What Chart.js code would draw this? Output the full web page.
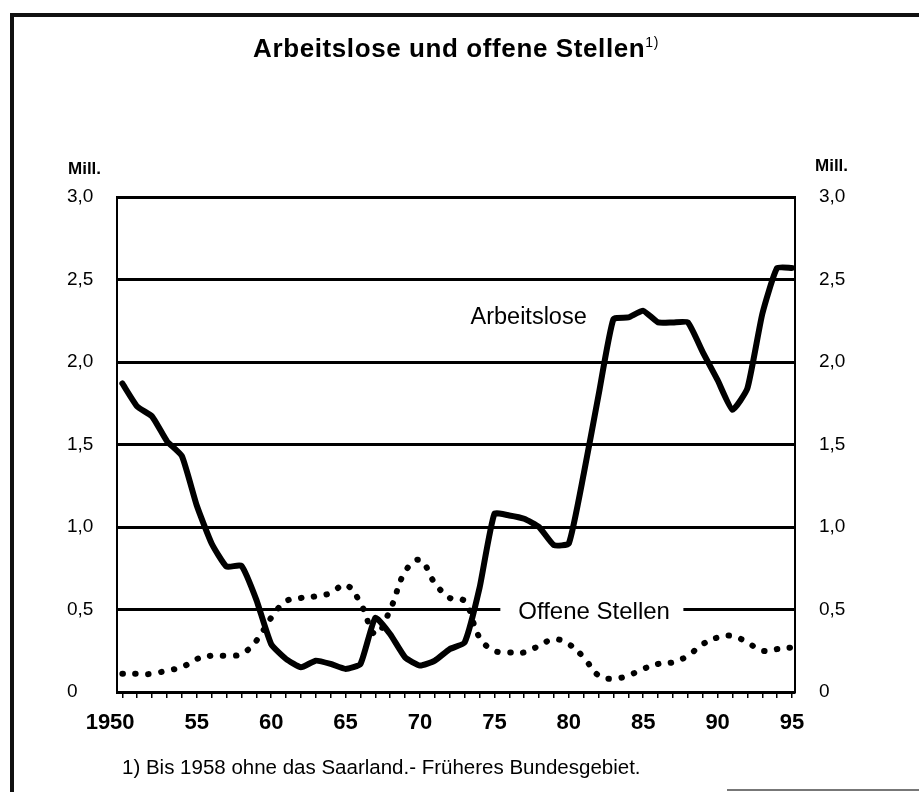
<!DOCTYPE html>
<html>
<head>
<meta charset="utf-8">
<script src="https://cdn.jsdelivr.net/npm/chart.js@4.4.0/dist/chart.umd.min.js"></script>
<style>
  body { margin: 0; background: #fff; font-family: "Liberation Sans", Arial, sans-serif; }
  #wrap { position: relative; width: 919px; height: 792px; overflow: hidden; }
  #frame { position: absolute; left: 10px; top: 13px; width: 920px; height: 800px;
           border-left: 4px solid #111; border-top: 4px solid #111; }
  #bottomline { position: absolute; left: 727px; top: 789px; width: 192px; height: 2px; background: #777; }
  .txt { position: absolute; color: #000; white-space: nowrap; }
  #title { left: 0; width: 912px; top: 33px; text-align: center; font-weight: bold; font-size: 26px; letter-spacing: 0.6px; }
  #title sup { font-size: 14px; font-weight: normal; }
  #millL { left: 68px; top: 159px; font-size: 17px; font-weight: bold; }
  #millR { left: 815px; top: 156px; font-size: 17px; font-weight: bold; }
  #foot { left: 122px; top: 755px; font-size: 20.5px; }
  canvas { position: absolute; left: 0; top: 0; }
</style>
</head>
<body>
<div id="wrap">
  <div id="frame"></div>
  <div id="bottomline"></div>
  <canvas id="lineChart" width="919" height="792"></canvas>
  <div class="txt" id="title">Arbeitslose und offene Stellen<sup>1)</sup></div>
  <div class="txt" id="millL">Mill.</div>
  <div class="txt" id="millR">Mill.</div>
  <div class="txt" id="foot">1) Bis 1958 ohne das Saarland.- Früheres Bundesgebiet.</div>
</div>
<script>
// Jahre
var years = [1950, 1951, 1952, 1953, 1954, 1955, 1956, 1957, 1958, 1959,
             1960, 1961, 1962, 1963, 1964, 1965, 1966, 1967, 1968, 1969,
             1970, 1971, 1972, 1973, 1974, 1975, 1976, 1977, 1978, 1979,
             1980, 1981, 1982, 1983, 1984, 1985, 1986, 1987, 1988, 1989,
             1990, 1991, 1992, 1993, 1994, 1995];
// Arbeitslose, Mill.
var arbeitslose = [1.87, 1.73, 1.67, 1.52, 1.43, 1.13, 0.90, 0.76, 0.765, 0.56,
                   0.29, 0.20, 0.15, 0.19, 0.17, 0.14, 0.17, 0.45, 0.35, 0.21,
                   0.16, 0.19, 0.26, 0.30, 0.63, 1.08, 1.07, 1.05, 1.00, 0.89,
                   0.90, 1.32, 1.80, 2.26, 2.27, 2.31, 2.24, 2.24, 2.24, 2.06,
                   1.89, 1.71, 1.84, 2.29, 2.57, 2.57];
// Offene Stellen, Mill.
var offeneStellen = [0.11, 0.11, 0.11, 0.13, 0.15, 0.20, 0.22, 0.22, 0.23, 0.31,
                     0.45, 0.55, 0.57, 0.58, 0.60, 0.65, 0.54, 0.35, 0.50, 0.73,
                     0.80, 0.66, 0.57, 0.55, 0.33, 0.25, 0.24, 0.24, 0.28, 0.32,
                     0.29, 0.21, 0.10, 0.08, 0.10, 0.14, 0.17, 0.18, 0.22, 0.29,
                     0.33, 0.34, 0.30, 0.25, 0.26, 0.27];
var yTicks = [0, 0.5, 1, 1.5, 2, 2.5, 3];

function pts(vals) {
  return years.map(function (yr, i) { return { x: yr, y: vals[i] }; });
}
function yLabel(v) {
  return v === 0 ? '0' : v.toFixed(1).replace('.', ',');
}

// Beschriftungen im Diagramm
var labelsPlugin = {
  id: 'seriesLabels',
  afterDatasetsDraw: function (chart) {
    var ctx = chart.ctx;
    var xs = chart.scales.x, ys = chart.scales.y;
    ctx.save();
    ctx.textAlign = 'center';
    ctx.textBaseline = 'middle';
    ctx.fillStyle = '#000';
    ctx.font = '23.5px "Liberation Sans", Arial, sans-serif';
    ctx.fillText('Arbeitslose', xs.getPixelForValue(1977.3), ys.getPixelForValue(2.27));
    // weisser Kasten ueber der 0,5-Linie
    var x0 = xs.getPixelForValue(1975.4), x1 = xs.getPixelForValue(1987.7);
    ctx.fillStyle = '#fff';
    ctx.fillRect(x0, ys.getPixelForValue(0.5) - 4, x1 - x0, 8);
    ctx.fillStyle = '#000';
    ctx.font = '24px "Liberation Sans", Arial, sans-serif';
    ctx.fillText('Offene Stellen', xs.getPixelForValue(1981.7), ys.getPixelForValue(0.485));
    ctx.restore();
  }
};

var lineChart = document.getElementById('lineChart');
var myLineChart = new Chart(lineChart, {
  type: 'line',
  data: {
    datasets: [
      {
        label: 'Offene Stellen',
        data: pts(offeneStellen),
        borderColor: '#000',
        borderWidth: 6,
        borderDash: [0.5, 12.5],
        borderCapStyle: 'round',
        borderJoinStyle: 'round',
        tension: 0.4,
        pointRadius: 0,
        fill: false
      },
      {
        label: 'Arbeitslose',
        data: pts(arbeitslose),
        borderColor: '#000',
        borderWidth: 6,
        borderCapStyle: 'round',
        borderJoinStyle: 'round',
        tension: 0.15,
        pointRadius: 0,
        fill: false
      }
    ]
  },
  options: {
    responsive: false,
    animation: false,
    layout: { padding: { left: 67, right: 64, top: 197, bottom: 48 } },
    plugins: { legend: { display: false }, tooltip: { enabled: false }, title: { display: false } },
    scales: {
      x: {
        type: 'linear',
        min: 1949.64,
        max: 1995.2,
        afterBuildTicks: function (s) { s.ticks = years.map(function (v) { return { value: v }; }); },
        afterFit: function (s) { s.height = 52; },
        grid: { drawOnChartArea: false, color: '#000', lineWidth: 1.5, tickLength: 6 },
        border: { color: '#000', width: 3 },
        ticks: {
          autoSkip: false,
          maxRotation: 0,
          padding: 12,
          color: '#000',
          font: { family: '"Liberation Sans", Arial, sans-serif', size: 22, weight: 'bold' },
          callback: function (v) {
            if (v % 5 !== 0) return '';
            if (v === 1950) return '1950\u2007\u2007';
            return String(v).slice(2);
          }
        }
      },
      y: {
        position: 'left',
        min: 0,
        max: 3,
        afterBuildTicks: function (s) { s.ticks = yTicks.map(function (v) { return { value: v }; }); },
        afterFit: function (s) { s.width = 50; },
        grid: { color: '#000', lineWidth: 3, drawTicks: false },
        border: { color: '#000', width: 2 },
        ticks: {
          crossAlign: 'far',
          padding: 0,
          color: '#000',
          font: { family: '"Liberation Sans", Arial, sans-serif', size: 19 },
          callback: yLabel
        }
      },
      y2: {
        position: 'right',
        min: 0,
        max: 3,
        afterBuildTicks: function (s) { s.ticks = yTicks.map(function (v) { return { value: v }; }); },
        afterFit: function (s) { s.width = 60; },
        grid: { drawOnChartArea: false, drawTicks: false },
        border: { color: '#000', width: 2 },
        ticks: {
          padding: 24,
          color: '#000',
          font: { family: '"Liberation Sans", Arial, sans-serif', size: 19 },
          callback: yLabel
        }
      }
    }
  },
  plugins: [labelsPlugin]
});
</script>
</body>
</html>
